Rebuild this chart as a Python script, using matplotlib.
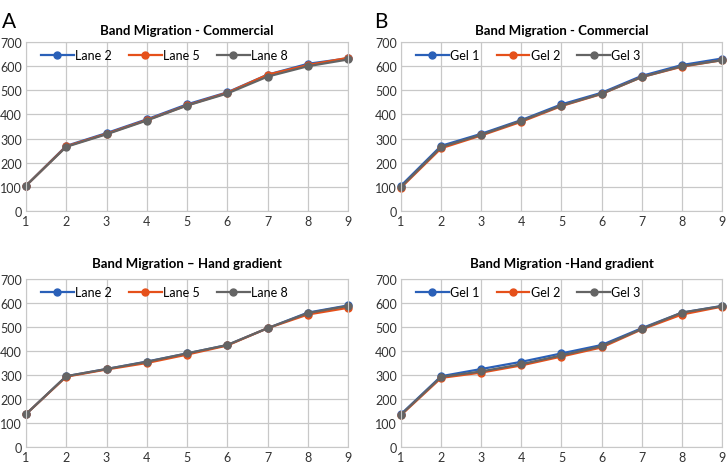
import matplotlib
matplotlib.use("Agg")
import matplotlib.pyplot as plt

plt.rcParams['font.family'] = ['Lato', 'DejaVu Sans']

x = [1, 2, 3, 4, 5, 6, 7, 8, 9]

# A - commercial
lane2_com = [105, 270, 323, 380, 442, 492, 565, 610, 633]
lane5_com = [105, 268, 320, 377, 438, 490, 565, 605, 635]
lane8_com = [105, 266, 318, 375, 437, 487, 557, 600, 628]

# B - commercial
gel1_com = [105, 270, 320, 377, 442, 490, 560, 605, 632]
gel2_com = [97, 260, 313, 370, 435, 485, 555, 598, 625]
gel3_com = [100, 265, 316, 374, 437, 486, 555, 600, 625]

# A - hand gradient
lane2_hand = [137, 295, 325, 356, 390, 425, 495, 560, 590]
lane5_hand = [137, 293, 323, 350, 385, 423, 495, 552, 580]
lane8_hand = [137, 295, 325, 355, 390, 425, 495, 558, 588]

# B - hand gradient
gel1_hand = [137, 295, 325, 355, 390, 425, 495, 560, 588]
gel2_hand = [133, 288, 310, 340, 377, 415, 490, 552, 585]
gel3_hand = [135, 292, 315, 345, 382, 420, 492, 560, 587]

colors = ['#2a60b8', '#e5501a', '#646464']

fig = plt.figure(figsize=(7.27, 4.64), dpi=100)

panels = [
    ([0.0358, 0.5431, 0.443, 0.364], 'Band Migration - Commercial', 6,
     [lane2_com, lane5_com, lane8_com], ['Lane 2', 'Lane 5', 'Lane 8']),
    ([0.5516, 0.5431, 0.4415, 0.364], 'Band Migration - Commercial', 6,
     [gel1_com, gel2_com, gel3_com], ['Gel 1', 'Gel 2', 'Gel 3']),
    ([0.0358, 0.0345, 0.443, 0.362], 'Band Migration \u2013 Hand gradient', 9,
     [lane2_hand, lane5_hand, lane8_hand], ['Lane 2', 'Lane 5', 'Lane 8']),
    ([0.5516, 0.0345, 0.4415, 0.362], 'Band Migration -Hand gradient', 9,
     [gel1_hand, gel2_hand, gel3_hand], ['Gel 1', 'Gel 2', 'Gel 3']),
]

for pos, title, tpad, series, labels in panels:
    ax = fig.add_axes(pos)
    for vals, lab, c in zip(series, labels, colors):
        ax.plot(x, vals, color=c, lw=1.6, marker='o', ms=5, label=lab, clip_on=False)
    ax.set_xlim(1, 9)
    ax.set_ylim(0, 700)
    ax.set_xticks(x)
    ax.set_yticks(range(0, 701, 100))
    ax.grid(True, color='#c8c8c8', lw=0.9)
    ax.set_axisbelow(True)
    for s in ax.spines.values():
        s.set_color('#c8c8c8')
    ax.tick_params(length=0, labelsize=9, colors='#333333', pad=3)
    ax.set_title(title, fontsize=9.5, fontweight='bold', pad=tpad)
    ax.legend(loc='upper left', ncol=3, frameon=False, fontsize=9,
              handlelength=2.6, handletextpad=0.1, columnspacing=1.4,
              bbox_to_anchor=(0.02, 1.01), borderaxespad=0.3)

fig.text(0.003, 0.975, 'A', fontsize=15, va='top')
fig.text(0.515, 0.975, 'B', fontsize=15, va='top')

fig.savefig('out.png', dpi=100)
